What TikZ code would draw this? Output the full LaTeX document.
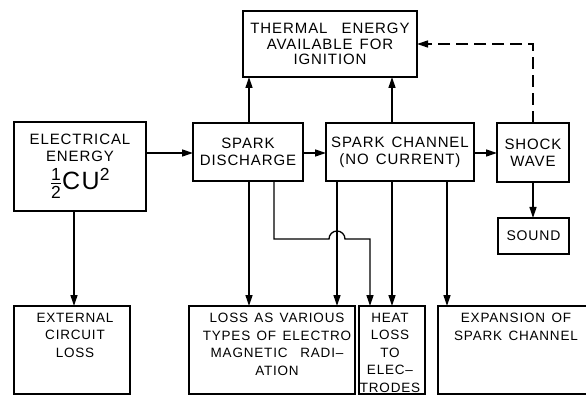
\documentclass[tikz,border=0pt]{standalone}
\usepackage{amsmath}
\usepackage{fontspec}
\setmainfont{Liberation Sans}[LetterSpace=6, WordSpace=1.4]
\usetikzlibrary{arrows.meta}
\begin{document}
\begin{tikzpicture}[x=1pt,y=-1pt,
  box/.style={draw, line width=1.6pt, inner sep=0pt, outer sep=0pt, anchor=north west, align=center},
  toptext/.style={font=\fontsize{15}{17}\selectfont},
  bottext/.style={font=\fontsize{13.5}{17.5}\selectfont, align=center, inner sep=0pt, anchor=north},
  conn/.style={line width=1.3pt, -{Triangle[length=11pt,width=7pt]}},
  dashconn/.style={conn, dash pattern=on 12pt off 6pt},
]
\useasboundingbox (0,0) rectangle (586,395);
\fill[white] (0,0) rectangle (586,395);

% boxes
\node[box, toptext, font=\fontsize{15}{15.5}\selectfont, minimum width=174pt, minimum height=66pt] (thermal) at (243,11)
  {THERMAL\ \ ENERGY\\AVAILABLE\ FOR\\IGNITION};
\node[box, toptext, minimum width=132pt, minimum height=89pt] (elec) at (14,122)
  {ELECTRICAL\\ENERGY\\[5pt]{\fontsize{25}{25}\selectfont$\frac{\text{1}}{\text{2}}$CU$^{\text{2}}$}};
\node[box, toptext, minimum width=110pt, minimum height=58pt] (disch) at (193,123)
  {SPARK\\DISCHARGE};
\node[box, toptext, minimum width=148pt, minimum height=58pt] (chan) at (326,123)
  {SPARK\ CHANNEL\\(NO\ CURRENT)};
\node[box, toptext, minimum width=72pt, minimum height=59pt] (shock) at (497,123)
  {SHOCK\\WAVE};
\node[box, toptext, font=\fontsize{14}{15}\selectfont, minimum width=71pt, minimum height=36pt] (sound) at (498,218)
  {SOUND};

\node[box, minimum width=116pt, minimum height=88pt] (ext) at (14,306) {};
\node[box, minimum width=166pt, minimum height=88pt] (loss) at (189,306) {};
\node[box, minimum width=66pt, minimum height=88pt] (heat) at (359,306) {};
\node[box, minimum width=170pt, minimum height=88pt] (expan) at (438,306) {};

% bottom texts
\node[bottext] (exttxt) at (75,313) {EXTERNAL\\CIRCUIT\\LOSS};
\node[bottext] (losstxt) at (277,313) {LOSS AS VARIOUS\\TYPES OF ELECTRO\\MAGNETIC\ \ RADI--\\ATION};
\node[bottext] (heattxt) at (390,313) {HEAT\\LOSS\\TO\\ELEC--\\TRODES};
\node[bottext] (expantxt) at (516,313) {EXPANSION OF\\SPARK CHANNEL};

% helper coordinates
\coordinate (ym) at (0,153);
\coordinate (xa) at (249,0);
\coordinate (xb) at (274,0);
\coordinate (xc) at (337,0);
\coordinate (xd) at (392,0);
\coordinate (xe) at (447,0);
\coordinate (xf) at (370,0);
\coordinate (xg) at (533,0);
\coordinate (xh) at (74,0);
\coordinate (bl) at (329,239);

% connectors
\draw[conn] (elec.east |- ym) -- (disch.west |- ym);
\draw[conn] (disch.east |- ym) -- (chan.west |- ym);
\draw[conn] (chan.east |- ym) -- (shock.west |- ym);
\draw[conn] (disch.north -| xa) -- (thermal.south -| xa);
\draw[conn] (chan.north -| xd) -- (thermal.south -| xd);
\draw[dashconn] (shock.north -| xg) |- (thermal.east);
\draw[conn] (shock.south -| xg) -- (sound.north -| xg);
\draw[conn] (elec.south -| xh) -- (ext.north -| xh);
\draw[conn] (disch.south -| xa) -- (loss.north -| xa);
\draw[conn] (chan.south -| xc) -- (loss.north -| xc);
\draw[conn] (chan.south -| xd) -- (heat.north -| xd);
\draw[conn] (chan.south -| xe) -- (expan.north -| xe);
\draw[conn] (disch.south -| xb) |- (bl) arc[start angle=180, end angle=0, radius=8pt] -| (heat.north -| xf);
\end{tikzpicture}
\end{document}
